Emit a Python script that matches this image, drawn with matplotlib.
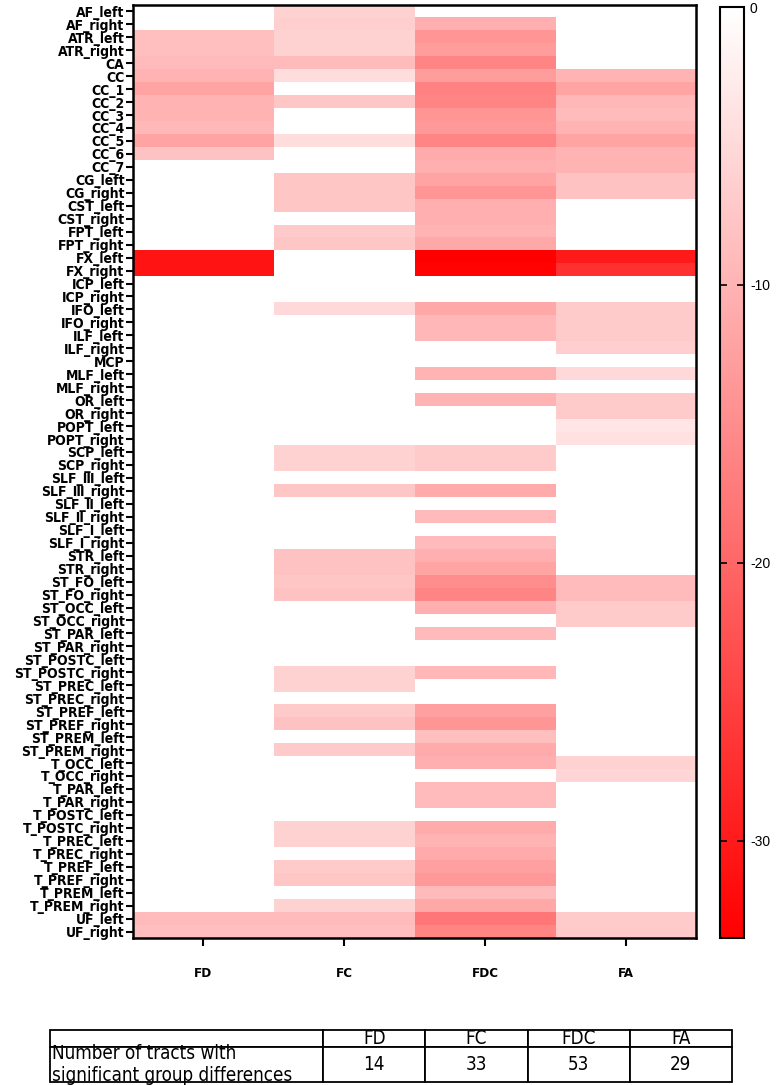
import numpy as np
import matplotlib
matplotlib.use('Agg')
import matplotlib.pyplot as plt
from matplotlib.colors import LinearSegmentedColormap

tracts = ['AF_left', 'AF_right', 'ATR_left', 'ATR_right', 'CA', 'CC',
          'CC_1', 'CC_2', 'CC_3', 'CC_4', 'CC_5', 'CC_6', 'CC_7',
          'CG_left', 'CG_right', 'CST_left', 'CST_right', 'FPT_left', 'FPT_right',
          'FX_left', 'FX_right', 'ICP_left', 'ICP_right', 'IFO_left', 'IFO_right',
          'ILF_left', 'ILF_right', 'MCP', 'MLF_left', 'MLF_right', 'OR_left', 'OR_right',
          'POPT_left', 'POPT_right', 'SCP_left', 'SCP_right',
          'SLF_Ⅲ_left', 'SLF_Ⅲ_right', 'SLF_Ⅱ_left', 'SLF_Ⅱ_right', 'SLF_Ⅰ_left', 'SLF_Ⅰ_right',
          'STR_left', 'STR_right', 'ST_FO_left', 'ST_FO_right', 'ST_OCC_left', 'ST_OCC_right',
          'ST_PAR_left', 'ST_PAR_right', 'ST_POSTC_left', 'ST_POSTC_right',
          'ST_PREC_left', 'ST_PREC_right', 'ST_PREF_left', 'ST_PREF_right',
          'ST_PREM_left', 'ST_PREM_right', 'T_OCC_left', 'T_OCC_right',
          'T_PAR_left', 'T_PAR_right', 'T_POSTC_left', 'T_POSTC_right',
          'T_PREC_left', 'T_PREC_right', 'T_PREF_left', 'T_PREF_right',
          'T_PREM_left', 'T_PREM_right', 'UF_left', 'UF_right']

metrics = ['FD', 'FC', 'FDC', 'FA']

fd = [0, 0, -8.5, -8.5, -9, -10, -12, -10, -10, -9.5, -12, -8, 0, 0, 0, 0, 0, 0, 0,
      -31, -31, 0, 0, 0, 0, 0, 0, 0, 0, 0, 0, 0, 0, 0, 0, 0,
      0, 0, 0, 0, 0, 0, 0, 0, 0, 0, 0, 0, 0, 0, 0, 0, 0, 0, 0, 0,
      0, 0, 0, 0, 0, 0, 0, 0, 0, 0, 0, 0, 0, 0, -9, -8.5]
fc = [-6, -6.5, -6, -6, -9, -4.5, 0, -7.5, 0, 0, -4.5, 0, 0, -7.5, -7.5, -7.5, 0, -7, -7.5,
      0, 0, 0, 0, -5, 0, 0, 0, 0, 0, 0, 0, 0, 0, 0, -6, -6,
      0, -7.5, 0, 0, 0, 0, -8, -8, -7.5, -8, 0, 0, 0, 0, 0, -6, -6, 0, -7, -8,
      0, -7, 0, 0, 0, 0, 0, -6, -6, 0, -7, -7.5, 0, -6, -9, -8.5]
fdc = [0, -10.5, -14, -13, -16, -13, -16.5, -16, -14, -13.5, -16, -11, -10.5, -12, -14, -10.5, -10.5, -10, -11.5,
       -33.5, -33, 0, 0, -11.5, -9.5, -9.5, 0, 0, -10, 0, -10, 0, 0, 0, -7, -7,
       0, -11, 0, -9, 0, -9, -10.5, -12, -15, -16, -10.5, 0, -9, 0, 0, -9.5, 0, 0, -12.5, -14,
       -8.5, -11, -10.5, 0, -9, -9, 0, -11, -10, -11, -12.5, -13.5, -9, -11.5, -18, -16]
fa = [0, 0, 0, 0, 0, -10, -12, -9.5, -9, -10, -12, -10, -10, -8, -8, 0, 0, 0, 0,
      -30, -27, 0, 0, -7, -7, -7, -6.5, 0, -5, 0, -7, -7, -3.5, -4, 0, 0,
      0, 0, 0, 0, 0, 0, 0, 0, -9, -9, -7, -7, 0, 0, 0, 0, 0, 0, 0, 0,
      0, 0, -6, -5.5, 0, 0, 0, 0, 0, 0, 0, 0, 0, 0, -7, -7]

counts = ['14', '33', '53', '29']
row_label = 'Number of tracts with\nsignificant group differences'

vmin = -33.5

plt.rcParams['font.family'] = ['Liberation Sans', 'DejaVu Sans']
plt.rcParams['axes.unicode_minus'] = False
narrow = dict(family='DejaVu Sans', fontstretch='condensed')

data = np.array([fd, fc, fdc, fa]).T
cmap = LinearSegmentedColormap.from_list('wr', ['#ff0000', '#ffffff'])

fig = plt.figure(figsize=(7.77, 10.85), dpi=100)
ax = fig.add_axes([0.171, 0.1355, 0.725, 0.86])
im = ax.imshow(data, cmap=cmap, vmin=vmin, vmax=0, aspect='auto', interpolation='nearest')

ax.set_yticks(range(len(tracts)))
ax.set_yticklabels(tracts, fontsize=10, fontweight='bold', **narrow)
ax.set_xticks(range(len(metrics)))
ax.set_xticklabels(metrics, fontsize=9.5, fontweight='bold', **narrow)
ax.tick_params(axis='y', length=5, width=1.5, pad=1)
ax.tick_params(axis='x', length=6, width=1.5, pad=15)
for s in ax.spines.values():
    s.set_linewidth(1.8)

cax = fig.add_axes([0.927, 0.1355, 0.031, 0.858])
cb = fig.colorbar(im, cax=cax)
cb.set_ticks([0, -10, -20, -30])
cb.ax.tick_params(direction='in', left=True, right=True, length=5, width=1.2, labelsize=10, pad=4)
cb.outline.set_linewidth(1.5)

tax = fig.add_axes([0.064, 0.003, 0.878, 0.048])
tax.axis('off')
tbl = tax.table(cellText=[[''] + metrics, [row_label] + counts],
                colWidths=[273, 102, 102, 102, 102], bbox=[0, 0, 1, 1])
tbl.auto_set_font_size(False)
for (r, c), cell in tbl.get_celld().items():
    cell.set_linewidth(1.3)
    cell.set_height(0.33 if r == 0 else 0.67)
    txt = cell.get_text()
    txt.set_fontsize(13.5)
    txt.set_family('DejaVu Sans')
    txt.set_fontstretch('condensed')
    if c == 0:
        txt.set_ha('left')
        cell.PAD = 0.01
    else:
        txt.set_ha('center')

fig.savefig('out.png', dpi=100)
